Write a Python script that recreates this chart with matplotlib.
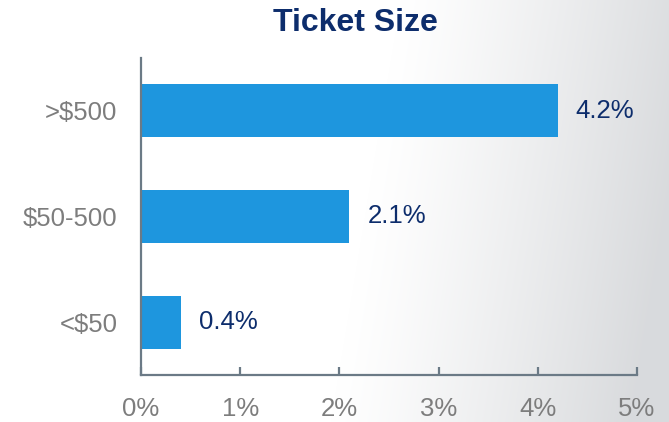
import numpy as np
import matplotlib.pyplot as plt
import matplotlib.ticker as mticker

plt.rcParams['font.family'] = ['Liberation Sans', 'DejaVu Sans']

# data
categories = ["<$50", "$50-500", ">$500"]
values = [0.4, 2.1, 4.2]
x_ticks = [0, 1, 2, 3, 4, 5]

BAR_COLOR = "#1e96de"
NAVY = "#0d2d6c"
GRAY = "#7d7d7d"
AXIS_COLOR = "#6b7a86"

fig = plt.figure(figsize=(6.69, 4.22), dpi=100)

# background: white on the left fading to light gray on the right
bg = fig.add_axes([0, 0, 1, 1], zorder=-10)
W, H = 669, 422
xx, yy = np.meshgrid(np.arange(W), np.arange(H))
s = (xx + yy * 70 / 422 - 400) / 300
s = np.clip(s, 0, 1) ** 1.2
white = np.array([1.0, 1.0, 1.0])
gray = np.array([0.85, 0.857, 0.867])
img = white[None, None, :] * (1 - s[..., None]) + gray[None, None, :] * s[..., None]
bg.imshow(img, aspect="auto", extent=[0, 1, 0, 1], origin="upper")
bg.axis("off")

ax = fig.add_axes([0.2108, 0.1114, 0.7414, 0.7512])
ax.patch.set_alpha(0)

y = np.arange(len(categories))
ax.barh(y, values, height=0.5, color=BAR_COLOR)

for yi, v in zip(y, values):
    ax.annotate(f"{v}%", (v, yi), xytext=(13, 0), textcoords="offset points",
                va="center", ha="left", fontsize=18.5, color=NAVY)

ax.set_xlim(0, 5)
ax.set_ylim(-0.5, 2.5)
ax.set_xticks(x_ticks)
ax.xaxis.set_major_formatter(mticker.FuncFormatter(lambda v, p: f"{v:.0f}%"))
ax.set_yticks(y)
ax.set_yticklabels(categories)

for side in ["top", "right"]:
    ax.spines[side].set_visible(False)
for side in ["left", "bottom"]:
    ax.spines[side].set_color(AXIS_COLOR)
    ax.spines[side].set_linewidth(1.6)

ax.tick_params(axis="x", direction="in", length=6, width=1.6, color=AXIS_COLOR,
               labelsize=18.5, labelcolor=GRAY, pad=16)
ax.tick_params(axis="y", length=0, labelsize=18.5, labelcolor=GRAY, pad=17)

fig.text(0.531, 0.945, "Ticket Size", ha="center", va="center",
         fontsize=23, fontweight="bold", color=NAVY)

fig.savefig("out.png", dpi=100)
